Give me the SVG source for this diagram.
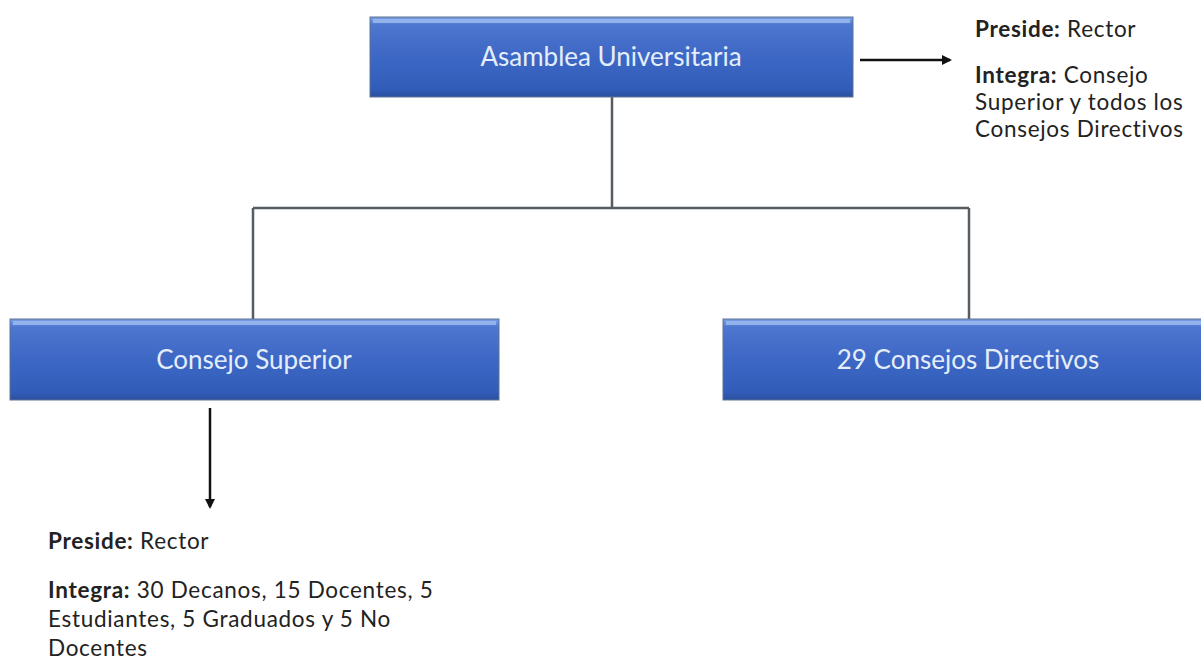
<svg xmlns="http://www.w3.org/2000/svg" width="1201" height="665" viewBox="0 0 1201 665">
<style>
.box{fill:url(#bg);stroke:#5d7394;stroke-width:1}
.hl{fill:#9fbdf0;opacity:0.8}
.bt{font-family:Lato,"Open Sans","Liberation Sans",sans-serif;font-size:26px;fill:#e4eefb;text-anchor:middle;font-variant-ligatures:none}
.tx{font-family:Lato,"Open Sans","Liberation Sans",sans-serif;font-size:22.5px;letter-spacing:0.7px;fill:#222;font-variant-ligatures:none}
.tx tspan.b{font-weight:bold}
.ln{stroke:#555d63;stroke-width:2.5;fill:none}
.ar{stroke:#111;stroke-width:2.5;fill:none}
</style>
<defs>
<linearGradient id="bg" x1="0" y1="0" x2="0" y2="1">
<stop offset="0" stop-color="#7aa0e6"/>
<stop offset="0.1" stop-color="#4d76cf"/>
<stop offset="0.5" stop-color="#3d67c4"/>
<stop offset="0.9" stop-color="#315db9"/>
<stop offset="1" stop-color="#2a4f9e"/>
</linearGradient>
<marker id="ah" markerWidth="10" markerHeight="10" refX="8" refY="5" orient="auto" markerUnits="userSpaceOnUse">
<path d="M0,0 L10,5 L0,10 Z" fill="#111"/>
</marker>
</defs>
<rect width="1201" height="665" fill="#ffffff"/>
<g id="connectors">
<path class="ln" d="M612,97 V208 M253,208 H969 M253,208 V319 M969,208 V319"/>
<line class="ar" x1="860" y1="60" x2="950" y2="60" marker-end="url(#ah)"/>
<line class="ar" x1="210" y1="408" x2="210" y2="507" marker-end="url(#ah)"/>
</g>
<g id="asamblea">
<rect class="box" x="370" y="17" width="483" height="80"/>
<rect class="hl" x="373" y="19" width="477" height="4"/>
<text class="bt" x="611" y="66">Asamblea Universitaria</text>
</g>
<g id="consejo-superior">
<rect class="box" x="10" y="319" width="489" height="81"/>
<rect class="hl" x="13" y="321" width="483" height="4"/>
<text class="bt" x="254" y="369">Consejo Superior</text>
</g>
<g id="consejos-directivos">
<rect class="box" x="723" y="319" width="492" height="81"/>
<rect class="hl" x="726" y="321" width="486" height="4"/>
<text class="bt" x="968" y="369">29 Consejos Directivos</text>
</g>
<g id="nota-asamblea">
<text class="tx" x="975" y="37"><tspan class="b">Preside:</tspan> Rector</text>
<text class="tx" x="975" y="83"><tspan class="b">Integra:</tspan> Consejo</text>
<text class="tx" x="975" y="110">Superior y todos los</text>
<text class="tx" x="975" y="137">Consejos Directivos</text>
</g>
<g id="nota-consejo">
<text class="tx" x="48" y="549"><tspan class="b">Preside:</tspan> Rector</text>
<text class="tx" x="48" y="598"><tspan class="b">Integra:</tspan> 30 Decanos, 15 Docentes, 5</text>
<text class="tx" x="48" y="627">Estudiantes, 5 Graduados y 5 No</text>
<text class="tx" x="48" y="656">Docentes</text>
</g>
</svg>
